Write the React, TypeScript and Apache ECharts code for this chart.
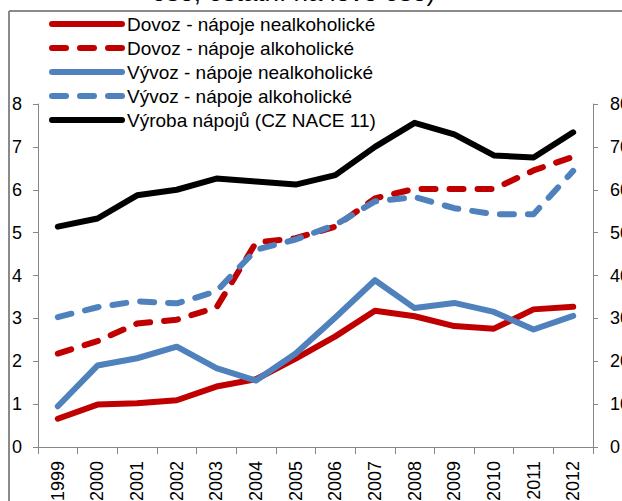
import React, { useEffect, useRef } from "react";
import * as echarts from "echarts";

const years = ["1999", "2000", "2001", "2002", "2003", "2004", "2005", "2006", "2007", "2008", "2009", "2010", "2011", "2012"];
const dovozNealko = [0.66, 0.99, 1.02, 1.09, 1.41, 1.58, 2.06, 2.58, 3.18, 3.05, 2.82, 2.76, 3.21, 3.27];
const dovozAlko = [2.18, 2.47, 2.88, 2.97, 3.25, 4.77, 4.87, 5.14, 5.8, 6.02, 6.02, 6.02, 6.45, 6.77];
const vyvozNealko = [0.95, 1.9, 2.07, 2.34, 1.84, 1.55, 2.18, 3.02, 3.89, 3.24, 3.36, 3.15, 2.74, 3.06];
const vyvozAlko = [3.03, 3.26, 3.4, 3.35, 3.63, 4.6, 4.84, 5.18, 5.73, 5.83, 5.57, 5.43, 5.43, 6.44];
const vyroba = [51.4, 53.3, 58.7, 60.0, 62.6, 61.9, 61.2, 63.4, 70.0, 75.6, 72.9, 68.0, 67.5, 73.4];

const seriesNames = [
  "Dovoz - nápoje nealkoholické",
  "Dovoz - nápoje alkoholické",
  "Vývoz - nápoje nealkoholické",
  "Vývoz - nápoje alkoholické",
  "Výroba nápojů (CZ NACE 11)",
];
const titleText = "ose, ostatní na levé ose)";

const RED = "#C00000";
const BLUE = "#4F81BD";
const BLACK = "#000000";
const AXIS = "#868686";
const FONT = "Liberation Sans, Arial, sans-serif";

export default function App() {
  const ref = useRef<HTMLDivElement>(null);
  useEffect(() => {
    if (!ref.current) return;
    const chart = echarts.init(ref.current, undefined, { renderer: "svg" });
    const mk = (name: string, data: number[], color: string, dashed: boolean, yAxisIndex: number) => ({
      name,
      type: "line",
      data,
      yAxisIndex,
      symbol: "none",
      showSymbol: false,
      smooth: false,
      color,
      lineStyle: {
        color,
        width: 6,
        type: dashed ? [14, 14] : "solid",
        cap: "round",
        join: "round",
      },
    });
    const axisCommon = {
      axisLine: { show: true, lineStyle: { color: AXIS, width: 1 } },
      axisTick: { show: true, inside: false, length: 5, lineStyle: { color: AXIS } },
      splitLine: { show: false },
    };
    chart.setOption({
      animation: false,
      backgroundColor: "#fff",
      textStyle: { fontFamily: FONT },
      grid: { left: 38, right: 29, top: 104, bottom: 54, containLabel: false, outerBoundsMode: "none" },
      legend: {
        orient: "vertical",
        left: 49,
        top: 14,
        padding: 0,
        itemWidth: 70,
        itemHeight: 14,
        itemGap: 4,
        data: seriesNames,
        itemStyle: { opacity: 0 },
        lineStyle: { width: 6, cap: "round" },
        textStyle: { color: "#000", fontSize: 19, fontFamily: FONT, lineHeight: 20 },
      },
      xAxis: {
        type: "category",
        data: years,
        boundaryGap: true,
        axisLine: { show: true, lineStyle: { color: AXIS, width: 1 } },
        axisTick: { show: true, length: 7, alignWithLabel: false, lineStyle: { color: AXIS } },
        axisLabel: { rotate: 90, interval: 0, color: "#000", fontSize: 18, fontFamily: FONT, margin: 14 },
        splitLine: { show: false },
      },
      yAxis: [
        {
          type: "value", min: 0, max: 8, interval: 1, position: "left", ...axisCommon,
          axisLabel: { color: "#000", fontSize: 18, fontFamily: FONT, margin: 16 },
        },
        {
          type: "value", min: 0, max: 80, interval: 10, position: "right", ...axisCommon,
          axisLabel: { color: "#000", fontSize: 18, fontFamily: FONT, margin: 17 },
        },
      ],
      graphic: [
        {
          type: "text",
          x: 293.5,
          y: -8,
          style: {
            text: titleText,
            fontSize: 26,
            fontFamily: FONT,
            fill: "#000",
            align: "center",
            verticalAlign: "middle",
          },
        },
        { type: "line", shape: { x1: 9, y1: 11, x2: 622, y2: 11 }, style: { stroke: "#8a8a8a", lineWidth: 2 } },
        { type: "line", shape: { x1: 9, y1: 11, x2: 9, y2: 501 }, style: { stroke: "#8a8a8a", lineWidth: 2 } },
      ],
      series: [
        mk(seriesNames[0], dovozNealko, RED, false, 0),
        mk(seriesNames[1], dovozAlko, RED, true, 0),
        mk(seriesNames[2], vyvozNealko, BLUE, false, 0),
        mk(seriesNames[3], vyvozAlko, BLUE, true, 0),
        mk(seriesNames[4], vyroba, BLACK, false, 1),
      ],
    });
    return () => chart.dispose();
  }, []);
  return (
    <div
      ref={ref}
      style={{ position: "absolute", left: 0, top: 0, width: 622, height: 501, overflow: "hidden" }}
    />
  );
}
